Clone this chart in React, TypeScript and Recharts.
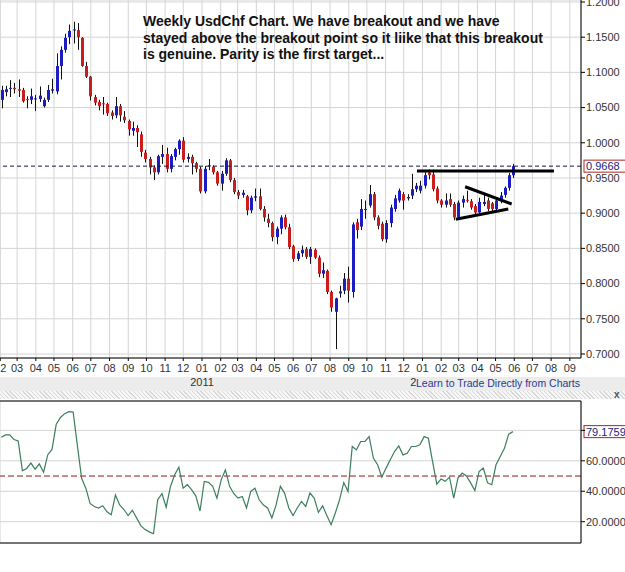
import React from 'react';
import { ComposedChart, Bar, Line, XAxis, YAxis, CartesianGrid, ReferenceLine } from 'recharts';

// weekly candles, first one = week of 2010-02-01
const START = Date.UTC(2010, 1, 1);
const WEEK = 7 * 86400000;

const opens = [
  1.061, 1.072, 1.077, 1.078, 1.076, 1.075, 1.062, 1.061, 1.062, 1.062, 1.052, 1.061, 1.074, 1.073, 1.109, 1.132,
  1.15, 1.16, 1.16, 1.149, 1.109, 1.094, 1.065, 1.058, 1.056, 1.055, 1.043, 1.039, 1.052, 1.037, 1.031, 1.017,
  1.021, 1.012, 0.986, 0.977, 0.965, 0.958, 0.98, 0.984, 0.963, 0.98, 0.991, 1.003, 0.977, 0.98, 0.971, 0.963,
  0.931, 0.967, 0.966, 0.958, 0.942, 0.956, 0.975, 0.947, 0.93, 0.926, 0.924, 0.904, 0.922, 0.924, 0.906, 0.892,
  0.886, 0.866, 0.878, 0.894, 0.88, 0.853, 0.835, 0.843, 0.849, 0.838, 0.848, 0.837, 0.814, 0.818, 0.788, 0.76,
  0.786, 0.79, 0.807, 0.788, 0.887, 0.881, 0.905, 0.911, 0.927, 0.894, 0.885, 0.863, 0.886, 0.906, 0.918, 0.927,
  0.921, 0.925, 0.934, 0.932, 0.939, 0.958, 0.955, 0.935, 0.918, 0.912, 0.92, 0.913, 0.894, 0.915, 0.919, 0.917,
  0.91, 0.901, 0.913, 0.918, 0.914, 0.906, 0.917, 0.926, 0.936, 0.954,
];
const highs = [
  1.081, 1.081, 1.089, 1.085, 1.09, 1.078, 1.066, 1.077, 1.068, 1.08, 1.064, 1.082, 1.091, 1.127, 1.137, 1.155,
  1.168, 1.172, 1.17, 1.15, 1.115, 1.095, 1.068, 1.061, 1.065, 1.057, 1.046, 1.065, 1.055, 1.045, 1.033, 1.03,
  1.025, 1.016, 0.99, 0.98, 0.968, 0.983, 0.997, 0.993, 0.984, 0.993, 1.005, 1.008, 0.985, 0.983, 0.973, 0.966,
  0.967, 0.977, 0.968, 0.96, 0.96, 0.978, 0.977, 0.95, 0.933, 0.933, 0.926, 0.925, 0.935, 0.935, 0.91, 0.899,
  0.888, 0.881, 0.897, 0.898, 0.885, 0.855, 0.846, 0.854, 0.852, 0.852, 0.85, 0.84, 0.83, 0.82, 0.79, 0.78,
  0.797, 0.815, 0.824, 0.887, 0.892, 0.92, 0.918, 0.94, 0.93, 0.897, 0.888, 0.89, 0.912, 0.926, 0.935, 0.93,
  0.927, 0.956, 0.943, 0.946, 0.958, 0.962, 0.962, 0.938, 0.92, 0.928, 0.928, 0.916, 0.918, 0.925, 0.932, 0.92,
  0.913, 0.922, 0.926, 0.922, 0.916, 0.92, 0.93, 0.938, 0.957, 0.97,
];
const lows = [
  1.049, 1.066, 1.065, 1.07, 1.065, 1.057, 1.049, 1.055, 1.045, 1.058, 1.05, 1.058, 1.07, 1.069, 1.09, 1.128,
  1.14, 1.141, 1.132, 1.108, 1.092, 1.06, 1.053, 1.046, 1.04, 1.038, 1.033, 1.035, 1.03, 1.028, 1.01, 1.01,
  0.994, 0.98, 0.972, 0.955, 0.947, 0.955, 0.97, 0.958, 0.958, 0.975, 0.983, 0.972, 0.972, 0.955, 0.958, 0.928,
  0.928, 0.961, 0.955, 0.939, 0.932, 0.953, 0.944, 0.927, 0.92, 0.922, 0.897, 0.9, 0.917, 0.904, 0.888, 0.88,
  0.86, 0.856, 0.87, 0.877, 0.849, 0.831, 0.832, 0.838, 0.835, 0.828, 0.835, 0.809, 0.808, 0.785, 0.76, 0.707,
  0.78, 0.785, 0.773, 0.78, 0.864, 0.876, 0.892, 0.908, 0.89, 0.877, 0.86, 0.858, 0.88, 0.902, 0.915, 0.905,
  0.918, 0.92, 0.93, 0.928, 0.935, 0.948, 0.931, 0.914, 0.908, 0.908, 0.909, 0.89, 0.891, 0.908, 0.915, 0.905,
  0.898, 0.898, 0.91, 0.903, 0.903, 0.902, 0.914, 0.922, 0.932, 0.95,
];
const closes = [
  1.075, 1.076, 1.078, 1.076, 1.074, 1.059, 1.061, 1.066, 1.063, 1.067, 1.061, 1.075, 1.076, 1.109, 1.132, 1.149,
  1.159, 1.161, 1.15, 1.109, 1.094, 1.066, 1.057, 1.052, 1.055, 1.042, 1.038, 1.052, 1.039, 1.032, 1.019, 1.021,
  1.015, 0.987, 0.977, 0.965, 0.958, 0.981, 0.984, 0.963, 0.981, 0.991, 1.003, 0.976, 0.98, 0.971, 0.963, 0.931,
  0.963, 0.968, 0.958, 0.942, 0.956, 0.975, 0.947, 0.93, 0.925, 0.929, 0.904, 0.922, 0.924, 0.906, 0.894, 0.886,
  0.866, 0.878, 0.894, 0.88, 0.852, 0.835, 0.843, 0.848, 0.838, 0.849, 0.837, 0.814, 0.819, 0.788, 0.766, 0.779,
  0.789, 0.807, 0.79, 0.884, 0.876, 0.906, 0.906, 0.927, 0.894, 0.882, 0.863, 0.886, 0.908, 0.921, 0.932, 0.918,
  0.923, 0.934, 0.939, 0.939, 0.954, 0.954, 0.934, 0.918, 0.912, 0.918, 0.912, 0.894, 0.915, 0.92, 0.918, 0.908,
  0.901, 0.916, 0.916, 0.906, 0.906, 0.918, 0.925, 0.936, 0.954, 0.9668,
];
const rsi = [
  75.5, 77, 77, 74, 73, 53.5, 55, 58.5, 54.5, 58, 52.5, 64, 67.5, 84, 88.5, 91, 92.3, 92, 70, 48.5,
  42, 32, 30, 29, 30.5, 26.5, 24.5, 37.5, 31, 28, 24, 27.5, 22.5, 17.4, 14.8, 13.3, 12.1, 34.4, 38.4, 29.5,
  43, 50.8, 55.8, 42, 44.3, 41, 37, 27, 46.4, 45.8, 43.2, 35.5, 47.5, 54, 43.2, 38.4, 35.5, 36.6, 29, 39.9,
  42, 34.4, 31, 29, 22.4, 31, 43.2, 38.8, 29, 24, 29, 33.3, 30, 38.8, 35.5, 26.1, 30.4, 24, 18, 25.7,
  34.4, 45.8, 39.9, 69.4, 67.2, 72.7, 72.7, 75.9, 61.8, 57.4, 49.3, 55.2, 60.7, 66.1, 69.8, 63.9, 65, 69.4, 69.4, 70.5,
  75.9, 74.8, 59.5, 44.7, 48, 46.5, 49.3, 35.5, 48.7, 52, 50, 45.5, 40.5, 53, 55.2, 45.5, 44.3, 57.4, 62.8, 68.3,
  77.5, 79.18,
];

const monthLabels = [
  '2010-02', '2010-03', '2010-04', '2010-05', '2010-06', '2010-07', '2010-08', '2010-09', '2010-10', '2010-11', '2010-12',
  '2011-01', '2011-02', '2011-03', '2011-04', '2011-05', '2011-06', '2011-07', '2011-08', '2011-09', '2011-10', '2011-11', '2011-12',
  '2012-01', '2012-02', '2012-03', '2012-04', '2012-05', '2012-06', '2012-07', '2012-08', '2012-09',
];
const priceTicks = [0.7, 0.75, 0.8, 0.85, 0.9, 0.95, 1.0, 1.05, 1.1, 1.15, 1.2];
const rsiTicks = [20, 40, 60, 80];
const lastPrice = 0.9668;
const lastRsi = 79.1759;

const X_MIN = -0.3;
const X_MAX = 137.1;

const data = opens.map((o, i) => ({
  i,
  open: o,
  high: highs[i],
  low: lows[i],
  close: closes[i],
  range: [lows[i], highs[i]],
  rsi: rsi[i],
}));

const monthTicks = monthLabels.map((s) => {
  const [y, m] = s.split('-').map(Number);
  return (Date.UTC(y, m - 1, 1) - START) / WEEK - 0.25;
});
const tickInfo = new Map(monthTicks.map((t, k) => [t.toFixed(3), monthLabels[k]]));

const BLUE = '#1c1cc4';
const RED = '#c81e1e';

const Candle = (props: any) => {
  const { x, y, width, height, payload } = props;
  const top = Math.min(y, y + height);
  const h = Math.abs(height);
  const k = h / (payload.high - payload.low);
  const cx = Math.round(x + width / 2) + 0.5;
  const yo = top + (payload.high - payload.open) * k;
  const yc = top + (payload.high - payload.close) * k;
  const up = payload.close >= payload.open;
  return (
    <g>
      <line x1={cx} x2={cx} y1={top} y2={top + h} stroke="#111" strokeWidth={1} />
      <rect x={cx - 1.5} y={Math.min(yo, yc)} width={3} height={Math.max(1, Math.abs(yo - yc))} fill={up ? BLUE : RED} />
    </g>
  );
};

const MonthTick = (props: any) => {
  const { x, y, payload } = props;
  const lab = tickInfo.get(Number(payload.value).toFixed(3)) || '';
  const [yy, mm] = lab.split('-');
  return (
    <g>
      <text x={x} y={y} dy={9} textAnchor="middle" fontSize={11} fill="#333">{mm}</text>
      {mm === '01' && (
        <text x={x} y={y} dy={23} textAnchor="middle" fontSize={11} fill="#333">{yy}</text>
      )}
    </g>
  );
};

const Tag = (props: any) => {
  const vb = props.viewBox || {};
  const right = (vb.x || 0) + (vb.width || 0);
  const y = vb.y || 0;
  return (
    <g>
      <rect x={right + 3} y={y - 6} width={46} height={12} fill="#fff" stroke="#b22222" strokeWidth={1} />
      <text x={right + 5} y={y + 4} fontSize={11} fill="#1a237e">{props.text}</text>
    </g>
  );
};

export default function App() {
  return (
    <div style={{ position: 'absolute', left: 0, top: 0, width: 625, height: 572, background: '#fff', overflow: 'hidden', fontFamily: '"Liberation Sans", Arial, sans-serif' }}>
      <div style={{ position: 'absolute', left: 0, top: 377, width: 625, height: 14, background: '#ececec' }} />

      <div style={{ position: 'absolute', left: 0, top: 0 }}>
        <ComposedChart width={625} height={392} data={data} margin={{ top: 0, right: 0, left: 0, bottom: 0 }}>
          <CartesianGrid stroke="#d4d4d4" />
          <XAxis
            dataKey="i"
            type="number"
            domain={[X_MIN, X_MAX]}
            allowDataOverflow
            ticks={monthTicks}
            interval={0}
            height={34}
            tick={<MonthTick />}
            tickSize={3}
            tickLine={{ stroke: '#000' }}
            axisLine={{ stroke: '#000' }}
          />
          <YAxis
            orientation="right"
            width={44}
            domain={[0.6943, 1.2028]}
            allowDataOverflow
            ticks={priceTicks}
            interval={0}
            tickFormatter={(v: number) => v.toFixed(4)}
            tick={{ fontSize: 11, fill: '#333' }}
            tickSize={4}
            tickMargin={1}
            tickLine={{ stroke: '#000' }}
            axisLine={{ stroke: '#000' }}
          />
          <Bar dataKey="range" barSize={3} shape={<Candle />} isAnimationActive={false} />
          <ReferenceLine y={lastPrice} stroke="#1a1a3a" strokeDasharray="4 3" label={<Tag text={lastPrice.toFixed(4)} />} />
          <ReferenceLine segment={[{ x: 98.3, y: 0.96 }, { x: 130.7, y: 0.96 }]} stroke="#000" strokeWidth={3} />
          <ReferenceLine segment={[{ x: 109.7, y: 0.9375 }, { x: 120.7, y: 0.913 }]} stroke="#000" strokeWidth={3} />
          <ReferenceLine segment={[{ x: 107.5, y: 0.8915 }, { x: 119.9, y: 0.906 }]} stroke="#000" strokeWidth={3} />
        </ComposedChart>
      </div>

      <div style={{ position: 'absolute', left: 143, top: 13, fontWeight: 'bold', fontSize: 14, lineHeight: '16.7px', color: '#111', whiteSpace: 'pre' }}>
        {'Weekly UsdChf Chart. We have breakout and we have\nstayed above the breakout point so it liike that this breakout\nis genuine. Parity is the first target...'}
      </div>

      <div style={{ position: 'absolute', left: 416, top: 377, height: 14, paddingRight: 2, background: '#ececec', fontSize: 10.5, lineHeight: '12px', color: '#2b3990', whiteSpace: 'pre' }}>
        Learn to Trade Directly from Charts
      </div>

      <div style={{ position: 'absolute', left: 0, top: 391, width: 625, height: 8, background: 'repeating-linear-gradient(45deg, #d8d8d8 0px, #d8d8d8 1px, #f6f6f6 1px, #f6f6f6 3px)' }} />
      <div style={{ position: 'absolute', left: 614, top: 389, fontSize: 10, fontWeight: 'bold', color: '#555' }}>x</div>

      <div style={{ position: 'absolute', left: 0, top: 396 }}>
        <ComposedChart width={625} height={152} data={data} margin={{ top: 0, right: 0, left: 0, bottom: 0 }}>
          <CartesianGrid stroke="#d4d4d4" />
          <XAxis xAxisId="top" orientation="top" dataKey="i" type="number" domain={[X_MIN, X_MAX]} allowDataOverflow ticks={monthTicks} height={5} tick={false} tickLine={false} axisLine={{ stroke: '#000' }} />
          <XAxis dataKey="i" type="number" domain={[X_MIN, X_MAX]} allowDataOverflow ticks={monthTicks} interval={0} height={5} tick={false} tickLine={false} axisLine={{ stroke: '#000' }} />
          <YAxis
            orientation="right"
            width={44}
            domain={[6, 99.3]}
            allowDataOverflow
            ticks={rsiTicks}
            interval={0}
            tickFormatter={(v: number) => (v === 80 ? '' : v.toFixed(4))}
            tick={{ fontSize: 11, fill: '#333' }}
            tickSize={4}
            tickMargin={1}
            tickLine={{ stroke: '#000' }}
            axisLine={{ stroke: '#000' }}
          />
          <ReferenceLine y={50} stroke="#8b1a1a" strokeDasharray="6 3" />
          <Line dataKey="rsi" type="linear" stroke="#3d7f5c" strokeWidth={1.2} dot={false} isAnimationActive={false} />
          <ReferenceLine y={lastRsi} stroke="none" label={<Tag text={lastRsi.toFixed(4)} />} />
        </ComposedChart>
      </div>
    </div>
  );
}
